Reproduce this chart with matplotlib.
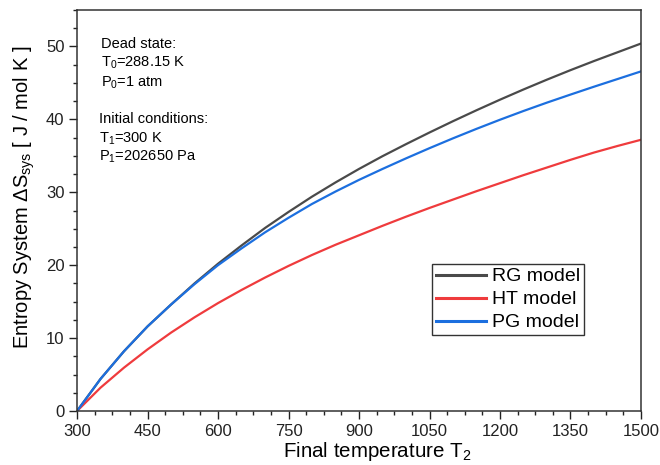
#!/usr/bin/env python3
"""Entropy change of the system vs final temperature for three gas models."""
import matplotlib
matplotlib.use("Agg")
import matplotlib.pyplot as plt
from matplotlib.ticker import MultipleLocator

# final temperature T2 [K]
T2 = [300, 350, 400, 450, 500, 550, 600, 650, 700, 750, 800, 850, 900, 950, 1000,
      1050, 1100, 1150, 1200, 1250, 1300, 1350, 1400, 1450, 1500]

# entropy change of the system [J / mol K]
rg_model = [0, 4.4, 8.2, 11.6, 14.6, 17.5, 20.2, 22.7, 25.1, 27.3, 29.4, 31.35, 33.2, 34.95, 36.6,
            38.2, 39.75, 41.25, 42.7, 44.1, 45.45, 46.75, 48.0, 49.2, 50.4]
ht_model = [0, 3.2, 5.95, 8.45, 10.75, 12.85, 14.8, 16.6, 18.3, 19.9, 21.4, 22.8, 24.1, 25.4, 26.65,
            27.85, 29.0, 30.15, 31.25, 32.35, 33.4, 34.45, 35.45, 36.35, 37.2]
pg_model = [0, 4.4, 8.2, 11.6, 14.6, 17.4, 20.0, 22.3, 24.5, 26.5, 28.4, 30.1, 31.7, 33.2, 34.65,
            36.05, 37.4, 38.7, 39.95, 41.15, 42.3, 43.4, 44.48, 45.53, 46.58]

series_labels = ["RG model", "HT model", "PG model"]
series_colors = ["#4a4a4a", "#ef3b3d", "#1c6fdf"]

dead_state = ["Dead state:", r"T$_0$=288.15 K", r"P$_0$=1 atm"]
initial_cond = ["Initial conditions:", r"T$_1$=300 K", r"P$_1$=202650 Pa"]

plt.rcParams["font.family"] = ["Liberation Sans", "DejaVu Sans"]
plt.rcParams["mathtext.fontset"] = "custom"
plt.rcParams["mathtext.rm"] = "Liberation Sans"
plt.rcParams["mathtext.it"] = "Liberation Sans:italic"
plt.rcParams["mathtext.bf"] = "Liberation Sans:bold"

fig = plt.figure(figsize=(6.6, 4.65), dpi=100)
ax = fig.add_axes([0.1167, 0.1161, 0.8545, 0.8624])

for ys, lab, col in zip([rg_model, ht_model, pg_model], series_labels, series_colors):
    ax.plot(T2, ys, color=col, lw=1.6, label=lab)

ax.set_xlim(300, 1500)
ax.set_ylim(0, 55)
ax.xaxis.set_major_locator(MultipleLocator(150))
ax.xaxis.set_minor_locator(MultipleLocator(37.5))
ax.yaxis.set_major_locator(MultipleLocator(10))
ax.yaxis.set_minor_locator(MultipleLocator(2.5))
ax.tick_params(which="both", direction="out", colors="#222222", labelsize=12,
               top=False, right=False, width=1.0)
ax.tick_params(which="major", length=5.5, pad=3.5)
ax.tick_params(which="minor", length=3)
for sp in ax.spines.values():
    sp.set_color("#333333")
    sp.set_linewidth(1.1)

ax.set_xlabel(r"Final temperature T$_2$", fontsize=14.8)
ax.xaxis.set_label_coords(0.532, -0.072)
ax.set_ylabel(r"Entropy System ΔS$_{\mathrm{sys}}$ [ J / mol K ]", fontsize=14.5)
ax.yaxis.set_label_coords(-0.071, 0.534)

for txt, yy in zip(dead_state, [0.905, 0.858, 0.810]):
    ax.text(0.0426, yy, txt, transform=ax.transAxes, fontsize=10.5, va="baseline")
for txt, yy in zip(initial_cond, [0.718, 0.670, 0.624]):
    ax.text(0.039, yy, txt, transform=ax.transAxes, fontsize=10.5, va="baseline")

leg = ax.legend(loc="upper left", bbox_to_anchor=(0.629, 0.367), fontsize=14,
                frameon=True, fancybox=False, framealpha=1, edgecolor="#333333",
                handlelength=2.6, handletextpad=0.3, labelspacing=0.28,
                borderpad=0.2, borderaxespad=0)
leg.get_frame().set_linewidth(1.0)
for line in leg.get_lines():
    line.set_linewidth(2.2)

fig.savefig("out.png", dpi=100)
